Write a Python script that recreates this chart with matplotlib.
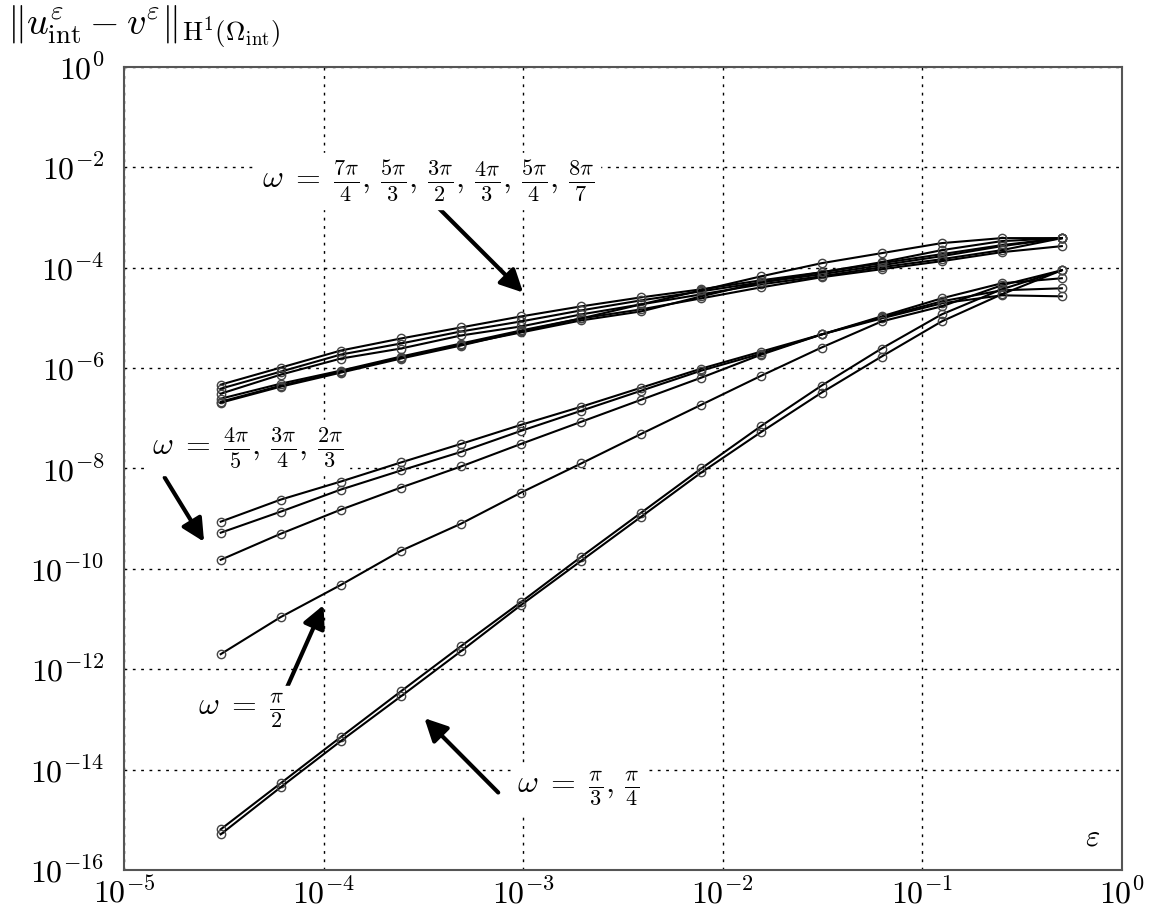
import numpy as np
import matplotlib
matplotlib.use("Agg")
import matplotlib.pyplot as plt
from matplotlib.ticker import FuncFormatter

plt.rcParams['mathtext.fontset'] = 'cm'
plt.rcParams['font.family'] = 'DejaVu Serif'

# eps = 2^-15 ... 2^-1
eps = [3.0518e-05, 6.1035e-05, 1.2207e-04, 2.4414e-04, 4.8828e-04, 9.7656e-04,
       1.9531e-03, 3.9063e-03, 7.8125e-03, 1.5625e-02, 3.125e-02, 6.25e-02,
       0.125, 0.25, 0.5]

# log10 of the H1 error
# omega = 7pi/4, 5pi/3, 3pi/2, 4pi/3, 5pi/4, 8pi/7
log_w1 = [-6.33, -5.99, -5.65, -5.41, -5.19, -4.97, -4.77, -4.59, -4.43, -4.25, -4.09, -3.91, -3.73, -3.55, -3.41]
log_w2 = [-6.41, -6.07, -5.73, -5.51, -5.27, -5.07, -4.85, -4.65, -4.47, -4.29, -4.13, -3.95, -3.77, -3.57, -3.41]
log_w3 = [-6.51, -6.13, -5.81, -5.61, -5.35, -5.17, -4.93, -4.73, -4.53, -4.33, -4.17, -3.99, -3.83, -3.65, -3.41]
log_w4 = [-6.61, -6.31, -6.05, -5.77, -5.51, -5.25, -5.01, -4.83, -4.61, -4.39, -4.19, -4.03, -3.87, -3.69, -3.57]
log_w5 = [-6.67, -6.35, -6.07, -5.79, -5.53, -5.29, -5.05, -4.87, -4.57, -4.29, -4.09, -3.89, -3.65, -3.47, -3.41]
log_w6 = [-6.69, -6.37, -6.09, -5.81, -5.55, -5.27, -5.01, -4.73, -4.45, -4.17, -3.91, -3.71, -3.51, -3.41, -3.41]
# omega = 4pi/5, 3pi/4, 2pi/3
log_m1 = [-9.06, -8.62, -8.26, -7.88, -7.51, -7.13, -6.77, -6.39, -6.01, -5.67, -5.33, -4.97, -4.61, -4.31, -4.21]
log_m2 = [-9.28, -8.86, -8.42, -8.04, -7.67, -7.25, -6.85, -6.45, -6.05, -5.71, -5.33, -4.99, -4.67, -4.45, -4.41]
log_m3 = [-9.82, -9.30, -8.82, -8.38, -7.96, -7.51, -7.07, -6.63, -6.19, -5.73, -5.33, -5.01, -4.71, -4.55, -4.57]
# omega = pi/2
log_p2 = [-11.70, -10.96, -10.32, -9.64, -9.10, -8.48, -7.90, -7.31, -6.73, -6.15, -5.59, -5.07, -4.77, -4.35, -4.05]
# omega = pi/3, pi/4
log_p3 = [-15.19, -14.27, -13.35, -12.44, -11.54, -10.66, -9.76, -8.88, -8.00, -7.15, -6.35, -5.61, -4.93, -4.43, -4.05]
log_p4 = [-15.29, -14.35, -13.43, -12.54, -11.64, -10.72, -9.84, -8.96, -8.08, -7.27, -6.49, -5.77, -5.07, -4.53, -4.05]

curves = [log_w1, log_w2, log_w3, log_w4, log_w5, log_w6,
          log_m1, log_m2, log_m3, log_p2, log_p3, log_p4]

fig = plt.figure(figsize=(11.52, 9.11), dpi=100)
ax = fig.add_axes([0.1076, 0.045, 0.8663, 0.8815])

for c in curves:
    ax.loglog(eps, 10.0 ** np.array(c), color='black', lw=1.5,
              marker='o', ms=6, mfc='none', mec='#444444', mew=1.0)

ax.set_xlim(1e-5, 1)
ax.set_ylim(1e-16, 1)
ax.set_xticks([1e-5, 1e-4, 1e-3, 1e-2, 1e-1, 1])
ax.set_yticks([10.0 ** e for e in range(-16, 1, 2)])
ax.minorticks_off()
pow_fmt = FuncFormatter(lambda v, p: r'$10^{%d}$' % int(round(np.log10(v))))
ax.xaxis.set_major_formatter(pow_fmt)
ax.yaxis.set_major_formatter(pow_fmt)
ax.tick_params(length=0, labelsize=23)
ax.tick_params(axis='y', pad=14)
ax.tick_params(axis='x', pad=6)
ax.grid(True, color='black', lw=1.0, linestyle=(0, (2, 4)))
for s in ax.spines.values():
    s.set_color('#555555')
    s.set_linewidth(1.5)

fig.text(0.006, 0.971, r'$\|u^{\varepsilon}_{\rm int} - v^{\varepsilon}\|_{\mathrm{H}^1(\Omega_{\rm int})}$',
         fontsize=27.5, ha='left', va='center')
ax.text(0.978, 0.022, r'$\varepsilon$', transform=ax.transAxes, fontsize=22,
        ha='right', va='bottom')

arrow = dict(arrowstyle='-|>', lw=3, color='black', mutation_scale=34, shrinkA=0, shrinkB=0)
fs = 23

ax.text(4.9e-5, 5.3e-3,
        r'$\omega\;=\;\frac{7\pi}{4},\,\frac{5\pi}{3},\,\frac{3\pi}{2},\,\frac{4\pi}{3},\,\frac{5\pi}{4},\,\frac{8\pi}{7}$',
        fontsize=fs, ha='left', va='center', backgroundcolor='white', zorder=5)
ax.annotate('', xy=(1.0e-3, 3.2e-5), xytext=(3.25e-4, 2.8e-3), arrowprops=arrow)

ax.text(1.38e-5, 2.6e-8, r'$\omega\;=\;\frac{4\pi}{5},\,\frac{3\pi}{4},\,\frac{2\pi}{3}$',
        fontsize=fs, ha='left', va='center', backgroundcolor='white', zorder=5)
ax.annotate('', xy=(2.52e-5, 3.46e-10), xytext=(1.6e-5, 6.6e-9), arrowprops=arrow)

ax.text(2.35e-5, 1.47e-13, r'$\omega\;=\;\frac{\pi}{2}$',
        fontsize=fs, ha='left', va='center', backgroundcolor='white', zorder=5)
ax.annotate('', xy=(1.0e-4, 1.9e-11), xytext=(6.4e-5, 3.5e-13), arrowprops=arrow)

ax.text(9.3e-4, 4.07e-15, r'$\omega\;=\;\frac{\pi}{3},\,\frac{\pi}{4}$',
        fontsize=fs, ha='left', va='center', backgroundcolor='white', zorder=5)
ax.annotate('', xy=(3.2e-4, 1.06e-13), xytext=(7.5e-4, 3.5e-15), arrowprops=arrow)

fig.savefig('out.png', dpi=100)
